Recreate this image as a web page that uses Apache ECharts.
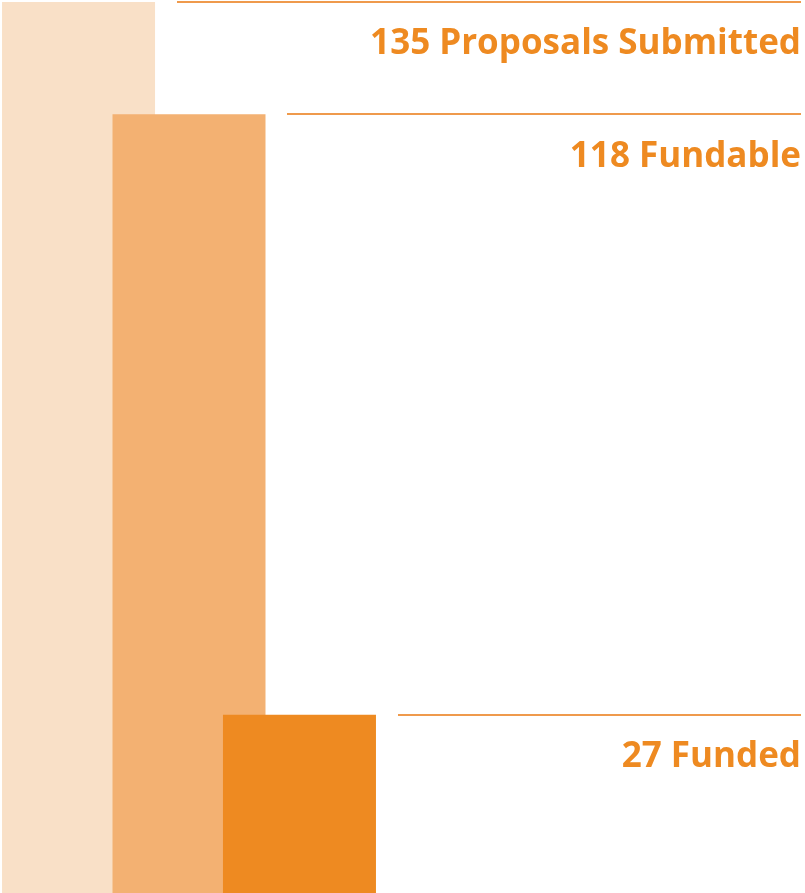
<!DOCTYPE html>
<html>
<head>
<meta charset="utf-8">
<script src="https://cdn.jsdelivr.net/npm/echarts@6/dist/echarts.min.js"></script>
<style>
  body { margin: 0; padding: 0; background: #fff; }
  #chart { width: 805px; height: 893px; }
</style>
</head>
<body>
<div id="chart"></div>
<script>
// data
var stages = ["Proposals Submitted", "Fundable", "Funded"];
var counts = [135, 118, 27];
var barColors = ["#F9E0C7", "#F3B172", "#EE8A21"];
var lineStartX = [177, 287, 398];

var chart = echarts.init(document.getElementById("chart"));

var series = stages.map(function (name, i) {
  return {
    name: name,
    type: "bar",
    data: [counts[i]],
    barWidth: 153,
    barGap: "-27.8%",
    clip: false,
    itemStyle: { color: barColors[i] },
    z: 2 + i,
    markLine: {
      silent: true,
      symbol: "none",
      animation: false,
      lineStyle: { color: "#EF9A4C", width: 2, type: "solid" },
      label: {
        show: true,
        position: "insideEndBottom",
        distance: [0, 25],
        formatter: counts[i] + " " + name,
        color: "#EE8A21",
        fontFamily: "Open Sans",
        fontWeight: "bold",
        fontSize: 35
      },
      data: [
        [
          { x: lineStartX[i], xAxis: 0, yAxis: counts[i] },
          { x: 801, xAxis: 0, yAxis: counts[i] }
        ]
      ]
    }
  };
});

chart.setOption({
  animation: false,
  grid: { left: 2, top: 2, width: 374, bottom: 0 },
  xAxis: {
    type: "category",
    data: ["stage"],
    show: false
  },
  yAxis: {
    type: "value",
    min: 0,
    max: 135,
    show: false,
    splitLine: { show: false }
  },
  series: series
});
</script>
</body>
</html>
